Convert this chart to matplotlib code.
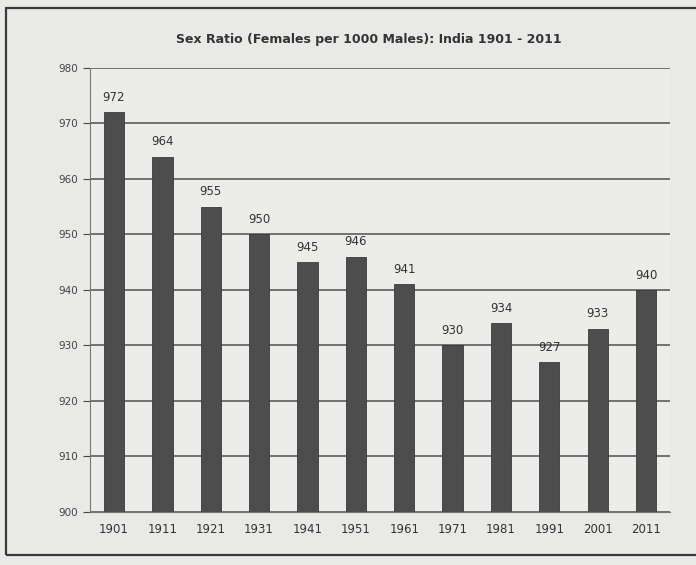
import matplotlib.pyplot as plt
from matplotlib.patches import Rectangle
import numpy as np

years = ['1901', '1911', '1921', '1931', '1941', '1951',
         '1961', '1971', '1981', '1991', '2001', '2011']
sex_ratio = [972, 964, 955, 950, 945, 946, 941, 930, 934, 927, 933, 940]

fig = plt.figure(figsize=(6.96, 5.65), dpi=100)
fig.patch.set_facecolor('#e9e9e7')

# outer frame round the chart (runs off the right edge)
fig.patches.append(Rectangle((0.008, 0.017), 1.05, 0.968, transform=fig.transFigure,
                             fill=False, edgecolor='#3a3a3a', linewidth=1.6))

ax = fig.add_axes([0.129, 0.094, 0.834, 0.786])
ax.set_facecolor('#ececea')

x = np.arange(len(years))
ax.bar(x, [v - 900 for v in sex_ratio], width=0.42, bottom=900,
       color='#4d4d4d', edgecolor='#3a3a3a', linewidth=0.6, zorder=3)

for xi, v in zip(x, sex_ratio):
    ax.text(xi, v + 1.5, str(v), ha='center', va='bottom', fontsize=8.5,
            color='#333333', zorder=4)

ax.set_xlim(-0.5, len(years) - 0.5)
ax.set_ylim(900, 980)
ax.set_yticks(np.arange(900, 981, 10))
ax.set_xticks(x)
ax.set_xticklabels(years)
ax.tick_params(axis='y', labelsize=7.5, colors='#444444', length=5, width=0.8)
ax.tick_params(axis='x', labelsize=8.5, colors='#333333', length=0, pad=8)
ax.yaxis.grid(True, color='#505050', linewidth=1.1, zorder=1)

for side in ['top', 'right']:
    ax.spines[side].set_visible(False)
ax.spines['left'].set_color('#777777')
ax.spines['bottom'].set_color('#777777')

fig.text(0.53, 0.93, 'Sex Ratio (Females per 1000 Males): India 1901 - 2011',
         ha='center', va='center', fontsize=9, fontweight='bold', color='#333333')

fig.savefig('out.png', dpi=100, facecolor=fig.get_facecolor())
